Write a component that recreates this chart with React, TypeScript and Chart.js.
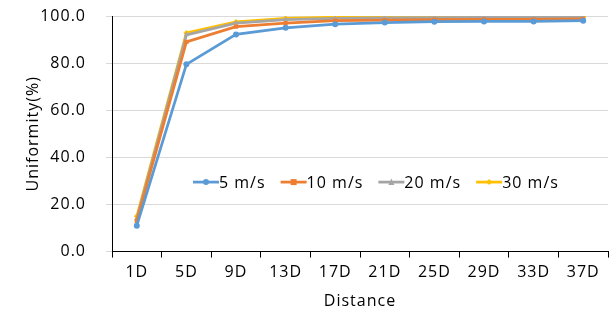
import React, { useEffect, useRef } from "react";
import { Chart, registerables } from "chart.js";

Chart.register(...registerables);

const categories = ["1D", "5D", "9D", "13D", "17D", "21D", "25D", "29D", "33D", "37D"];
const seriesNames = ["5 m/s", "10 m/s", "20 m/s", "30 m/s"];
const s5 = [11.0, 79.5, 92.2, 95.0, 96.5, 97.2, 97.6, 97.7, 97.7, 98.0];
const s10 = [13.0, 89.0, 95.5, 97.0, 98.0, 98.3, 98.5, 98.6, 98.6, 98.8];
const s20 = [14.0, 92.0, 97.0, 98.5, 99.0, 99.2, 99.3, 99.4, 99.4, 99.5];
const s30 = [15.0, 92.8, 97.5, 99.0, 99.5, 99.6, 99.7, 99.7, 99.7, 99.8];
const yTicks = [0, 20, 40, 60, 80, 100];

const colors = ["#5B9BD5", "#ED7D31", "#A5A5A5", "#FFC000"];
const markers = ["circle", "rect", "triangle", "rectRot"];
const FONT = "'Open Sans', sans-serif";
const FS = 16;

const spacingPlugin = {
  id: "spacing",
  beforeUpdate(chart: any) {
    chart.ctx.letterSpacing = "1px";
  },
  beforeDraw(chart: any) {
    chart.ctx.letterSpacing = "1px";
  },
};

const legendPlugin = {
  id: "insideLegend",
  afterDraw(chart: any) {
    const ctx = chart.ctx;
    const area = chart.chartArea;
    const y = area.top + (area.bottom - area.top) * 0.705;
    let x = area.left + 81;
    ctx.save();
    ctx.letterSpacing = "1px";
    ctx.font = `${FS}px ${FONT}`;
    ctx.textBaseline = "middle";
    chart.data.datasets.forEach((ds: any, i: number) => {
      ctx.strokeStyle = colors[i];
      ctx.lineWidth = 2.75;
      ctx.beginPath();
      ctx.moveTo(x, y);
      ctx.lineTo(x + 26, y);
      ctx.stroke();
      ctx.fillStyle = colors[i];
      const cx = x + 13;
      const r = 3;
      ctx.beginPath();
      if (i === 0) ctx.arc(cx, y, r, 0, Math.PI * 2);
      else if (i === 1) ctx.rect(cx - r, y - r, 2 * r, 2 * r);
      else if (i === 2) {
        ctx.moveTo(cx, y - r - 0.5);
        ctx.lineTo(cx + r, y + r);
        ctx.lineTo(cx - r, y + r);
        ctx.closePath();
      } else {
        ctx.moveTo(cx, y - r);
        ctx.lineTo(cx + r, y);
        ctx.lineTo(cx, y + r);
        ctx.lineTo(cx - r, y);
        ctx.closePath();
      }
      ctx.fill();
      ctx.fillStyle = "#000";
      ctx.textAlign = "left";
      const label = ds.label;
      ctx.fillText(label, x + 26, y + 1);
      x += 26 + ctx.measureText(label).width + 15;
    });
    ctx.restore();
  },
};

export default function App() {
  const ref = useRef<HTMLCanvasElement>(null);
  useEffect(() => {
    document.body.style.margin = "0";
    const all = [s5, s10, s20, s30];
    const chart = new Chart(ref.current!, {
      type: "line",
      data: {
        labels: categories,
        datasets: all.map((d, i) => ({
          label: seriesNames[i],
          data: d,
          borderColor: colors[i],
          backgroundColor: colors[i],
          borderWidth: 2.75,
          pointStyle: markers[i] as any,
          pointRadius: 3,
          pointBorderWidth: 0,
          tension: 0,
        })),
      },
      options: {
        animation: false,
        responsive: false,
        layout: { padding: { top: 6, right: 5, left: 20, bottom: 3 } },
        plugins: { legend: { display: false }, tooltip: { enabled: false } },
        scales: {
          x: {
            offset: true,
            grid: { offset: true, drawOnChartArea: false, color: "#000", tickLength: 6 },
            border: { color: "#000", width: 1 },
            ticks: { color: "#000", font: { family: FONT, size: FS }, padding: 5, maxRotation: 0 },
            title: { display: true, text: "Distance", color: "#000", font: { family: FONT, size: FS }, padding: { top: 5, bottom: 0 } },
          },
          y: {
            min: 0,
            max: 100,
            afterBuildTicks: (axis: any) => {
              axis.ticks = yTicks.map((v) => ({ value: v }));
            },
            afterFit: (axis: any) => {
              axis.width = 92;
              axis.paddingTop = 16;
              axis.paddingBottom = 0;
            },
            grid: { color: "#D9D9D9", tickLength: 6, lineWidth: 1 },
            border: { color: "#000", width: 1 },
            ticks: {
              color: "#000",
              font: { family: FONT, size: FS },
              padding: 20,
              callback: (v: any) => Number(v).toFixed(1),
            },
            title: { display: true, text: "Uniformity(%)", color: "#000", font: { family: FONT, size: FS }, padding: { top: 4, bottom: 0 } },
          },
        },
      },
      plugins: [spacingPlugin, legendPlugin],
    });
    return () => chart.destroy();
  }, []);
  return (
    <div style={{ width: 613, height: 314 }}>
      <canvas ref={ref} width={613} height={314} />
    </div>
  );
}
